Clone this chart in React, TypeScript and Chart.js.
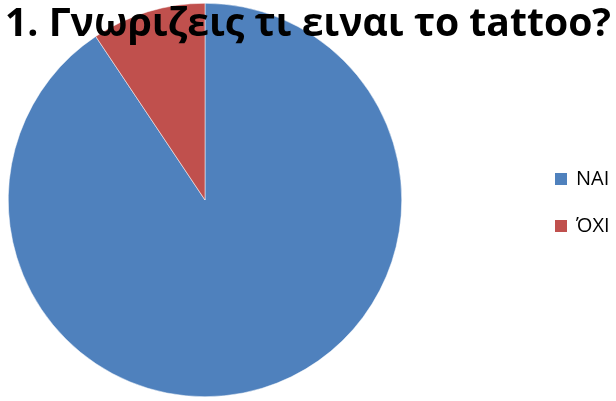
import React, { useEffect, useRef } from "react";
import { Chart, registerables } from "chart.js";

Chart.register(...registerables);

const titleText = "1. Γνωριζεις τι ειναι το tattoo?";
const categories = ["ΝΑΙ", "ΌΧΙ"];
const values = [29, 3];
const colors = ["#4F81BD", "#C0504D"];

const overlayPlugin = {
  id: "overlay",
  afterDraw(chart: any) {
    const ctx = chart.ctx as CanvasRenderingContext2D;
    ctx.save();
    // Title
    ctx.font = "bold 39px 'Open Sans'";
    ctx.fillStyle = "#000";
    ctx.textBaseline = "alphabetic";
    const w = ctx.measureText(titleText).width;
    const target = 606;
    ctx.translate(5, 36);
    ctx.scale(target / w, 1);
    ctx.fillText(titleText, 0, 0);
    ctx.restore();
    // Legend
    ctx.save();
    ctx.font = "20px 'Open Sans'";
    ctx.textBaseline = "alphabetic";
    categories.forEach((c, i) => {
      const y = 173 + i * 47;
      ctx.fillStyle = colors[i];
      ctx.fillRect(555, y, 12, 12);
      ctx.fillStyle = "#000";
      ctx.fillText(c, 576, y + 12);
    });
    ctx.restore();
  },
};

export default function App() {
  const ref = useRef<HTMLCanvasElement>(null);
  useEffect(() => {
    document.body.style.margin = "0";
    const chart = new Chart(ref.current!, {
      type: "pie",
      data: {
        labels: categories,
        datasets: [
          {
            data: values,
            backgroundColor: colors,
            borderColor: "#ffffff",
            borderWidth: 0.5,
          },
        ],
      },
      options: {
        responsive: false,
        animation: false,
        layout: { padding: { left: 8, right: 214, top: 3, bottom: 4 } },
        plugins: {
          legend: { display: false },
          tooltip: { enabled: false },
          title: { display: false },
        },
      },
      plugins: [overlayPlugin],
    });
    return () => chart.destroy();
  }, []);
  return (
    <div style={{ width: 616, height: 401 }}>
      <canvas ref={ref} width={616} height={401} />
    </div>
  );
}
